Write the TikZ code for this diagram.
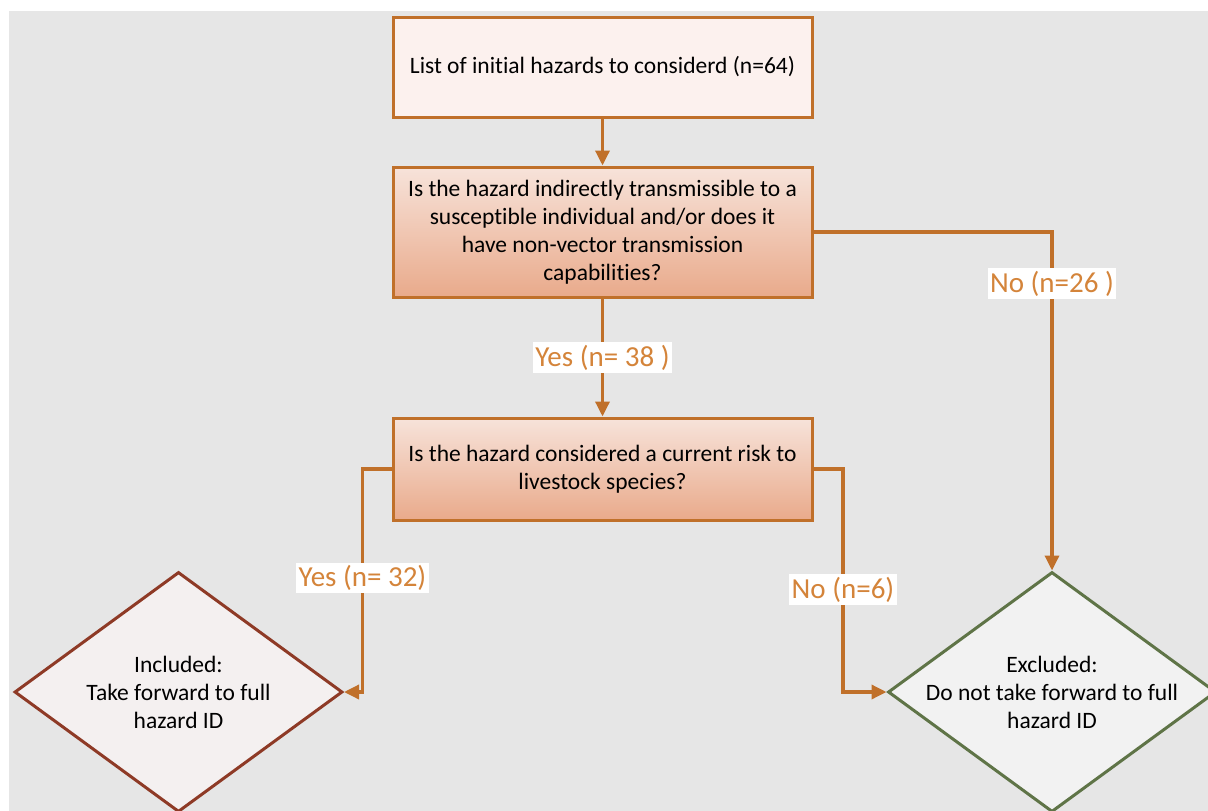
\documentclass[tikz,border=0pt]{standalone}
\usepackage{fontspec}
\setmainfont[Ligatures={NoCommon}]{Carlito}
\usetikzlibrary{shapes.geometric,arrows.meta}
\definecolor{bg}{HTML}{E6E6E6}
\definecolor{orln}{HTML}{C0702A}
\definecolor{ortx}{HTML}{D4843A}
\definecolor{boxonefill}{HTML}{FCF1EE}
\definecolor{gtop}{HTML}{F7E3DA}
\definecolor{gbot}{HTML}{E9AA8B}
\definecolor{incl}{HTML}{8E3A26}
\definecolor{inclfill}{HTML}{F4F0F0}
\definecolor{excl}{HTML}{5F7447}
\definecolor{exclfill}{HTML}{F2F2F2}
\begin{document}
\begin{tikzpicture}[x=1pt,y=-1pt,
  txt/.style={font=\fontsize{23.5}{28}\selectfont, align=center, text=black},
  procbox/.style={draw=orln, line width=3pt, minimum width=419pt, inner sep=0pt, txt},
  gradbox/.style={procbox, top color=gtop, bottom color=gbot},
  conn/.style={draw=orln, line width=3.4pt, -{Triangle[length=15pt,width=14pt]}},
  lbl/.style={fill=white, text=ortx, font=\fontsize{29}{33}\selectfont, inner sep=2.5pt},
  dmd/.style={diamond, line width=3pt, minimum width=328pt, minimum height=240pt, inner sep=0pt}
]
\useasboundingbox (0,0) rectangle (1208,811);
\clip (0,0) rectangle (1208,811);
\fill[white] (0,0) rectangle (1208,811);
\fill[bg] (9,11) rectangle (1208,811);

\node[procbox, fill=boxonefill, minimum height=100pt] (b1) at (602.5,67) {List of initial hazards to considerd (n=64)};
\node[gradbox, minimum height=130pt] (b2) at (602.5,232) {Is the hazard indirectly transmissible to a\\susceptible individual and/or does it\\have non-vector transmission\\capabilities?};
\node[gradbox, minimum height=102pt] (b3) at (602.5,469) {Is the hazard considered a current risk to\\livestock species?};
\node[dmd, draw=incl, fill=inclfill] (inc) at (178.5,692) {};
\node[txt] (inct) at (inc.center) {Included:\\Take forward to full\\hazard ID};
\node[dmd, draw=excl, fill=exclfill] (exc) at (1052,692) {};
\node[txt] (exct) at (exc.center) {Excluded:\\Do not take forward to full\\hazard ID};

\draw[conn] (b1) -- (b2);
\draw[conn] (b2) -- node[lbl] (l38) {Yes (n= 38 )} (b3);
\draw[conn] (b2.east) -| node[lbl, pos=0.576] (l26) {No (n=26 )} (exc.north);
\draw[conn] (b3.west) -- ++(-29,0) |- node[lbl, pos=0.245] (l32) {Yes (n= 32)} (inc.east);
\draw[conn] (b3.east) -- ++(29.5,0) |- node[lbl, pos=0.27] (l6) {No (n=6)} (exc.west);
\end{tikzpicture}
\end{document}
